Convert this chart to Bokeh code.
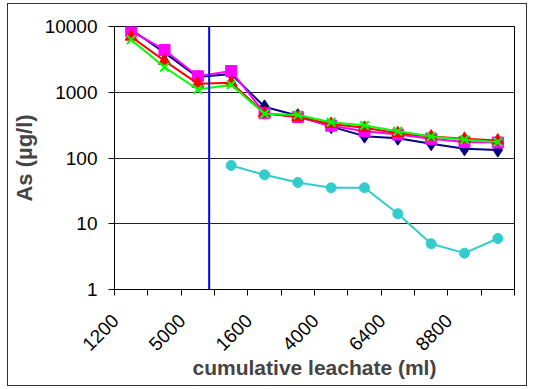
import numpy as np
from bokeh.plotting import figure
from bokeh.layouts import column
from bokeh.models import Range1d, FixedTicker, PrintfTickFormatter, Span
from bokeh.embed import file_html
from bokeh.resources import INLINE

# ---- data ----
tick_labels = ["1200", "", "5000", "", "1600", "", "4000", "", "6400", "", "8800", ""]
series_navy = [9000, 4000, 1700, 1900, 600, 440, 300, 215, 200, 165, 138, 132]
series_magenta = [8500, 4400, 1750, 2100, 480, 420, 310, 255, 228, 196, 175, 172]
series_red = [7000, 3000, 1350, 1400, 480, 420, 330, 288, 238, 212, 196, 185]
series_green = [6300, 2400, 1100, 1300, 470, 450, 350, 312, 255, 212, 190, 175]
series_cyan = [np.nan, np.nan, np.nan, 77, 55.5, 42.4, 35.2, 35.2, 14.2, 4.96, 3.57, 5.97]
phase_break = 2.84  # position of blue separator (category units)
y_ticks = [1, 10, 100, 1000, 10000]

n = len(tick_labels)
xs = np.arange(n) + 0.5

p = figure(width=518, height=381, y_axis_type="log",
           x_range=Range1d(0, n), y_range=Range1d(1, 10000),
           output_backend="svg", toolbar_location=None,
           min_border_left=105, min_border_right=12, min_border_top=22, min_border_bottom=96)
p.background_fill_color = "white"
p.border_fill_color = "white"
p.outline_line_color = "black"
p.outline_line_width = 1

# y axis
p.yaxis.ticker = FixedTicker(ticks=y_ticks, minor_ticks=[])
p.yaxis.formatter = PrintfTickFormatter(format="%d")
p.yaxis.major_label_text_font = "Liberation Sans"
p.yaxis.major_label_text_font_size = "19px"
p.yaxis.major_label_text_color = "black"
p.yaxis.major_tick_out = 6
p.yaxis.major_tick_in = 0
p.yaxis.major_label_standoff = 11
p.yaxis.axis_line_color = "black"
p.yaxis.axis_label = "As (µg/l)"
p.yaxis.axis_label_text_font = "Liberation Sans"
p.yaxis.axis_label_text_font_style = "bold"
p.yaxis.axis_label_text_font_size = "22px"
p.yaxis.axis_label_standoff = 5

# x axis: labels sit left of category centre, as in the original
label_shift = -0.47
label_pos = [float(x) + label_shift for x, t in zip(xs, tick_labels) if t]
label_txt = [t for t in tick_labels if t]
p.xaxis.ticker = FixedTicker(ticks=label_pos, minor_ticks=list(range(n + 1)))
p.xaxis.major_label_overrides = {pos: t for pos, t in zip(label_pos, label_txt)}
p.xaxis.major_tick_in = 0
p.xaxis.major_tick_out = 0
p.xaxis.minor_tick_in = 0
p.xaxis.minor_tick_out = 6
p.xaxis.minor_tick_line_color = "black"
p.xaxis.major_label_orientation = np.pi / 4
p.xaxis.major_label_text_font = "Liberation Sans"
p.xaxis.major_label_text_font_size = "19px"
p.xaxis.major_label_text_color = "black"
p.xaxis.major_label_standoff = 22
p.xaxis.axis_line_color = "black"
p.xaxis.axis_label = "cumulative leachate (ml)"
p.xaxis.axis_label_text_font = "Liberation Sans"
p.xaxis.axis_label_text_font_style = "bold"
p.xaxis.axis_label_text_font_size = "21px"
p.xaxis.axis_label_standoff = -4

p.xgrid.visible = False
p.ygrid.ticker = FixedTicker(ticks=y_ticks, minor_ticks=[])
p.ygrid.grid_line_color = "#222222"
p.ygrid.grid_line_width = 1

p.add_layout(Span(location=phase_break, dimension="height", line_color="#0000FF", line_width=2))

# series
p.line(xs, series_navy, line_color="#000080", line_width=2)
p.scatter(xs, series_navy, marker="diamond", size=14, fill_color="#000080", line_color="#000080")
p.line(xs, series_magenta, line_color="#FF00FF", line_width=2)
p.scatter(xs, series_magenta, marker="square", size=11, fill_color="#FF00FF", line_color="#FF00FF")
p.line(xs, series_red, line_color="#FF0000", line_width=2)
p.scatter(xs, series_red, marker="triangle", size=12, fill_color="#FF0000", line_color="#FF0000")
p.line(xs, series_green, line_color="#00FF00", line_width=2)
p.scatter(xs, series_green, marker="x", size=12, line_color="#00FF00", line_width=2)
p.line(xs, series_cyan, line_color="#33CCCC", line_width=2)
p.scatter(xs, series_cyan, marker="circle", size=10, fill_color="#33CCCC", line_color="#33CCCC")

layout = column(p, styles={"border": "1px solid #333333", "margin-left": "7px", "margin-top": "3px"})

open("out.html", "w").write(file_html(layout, INLINE))
